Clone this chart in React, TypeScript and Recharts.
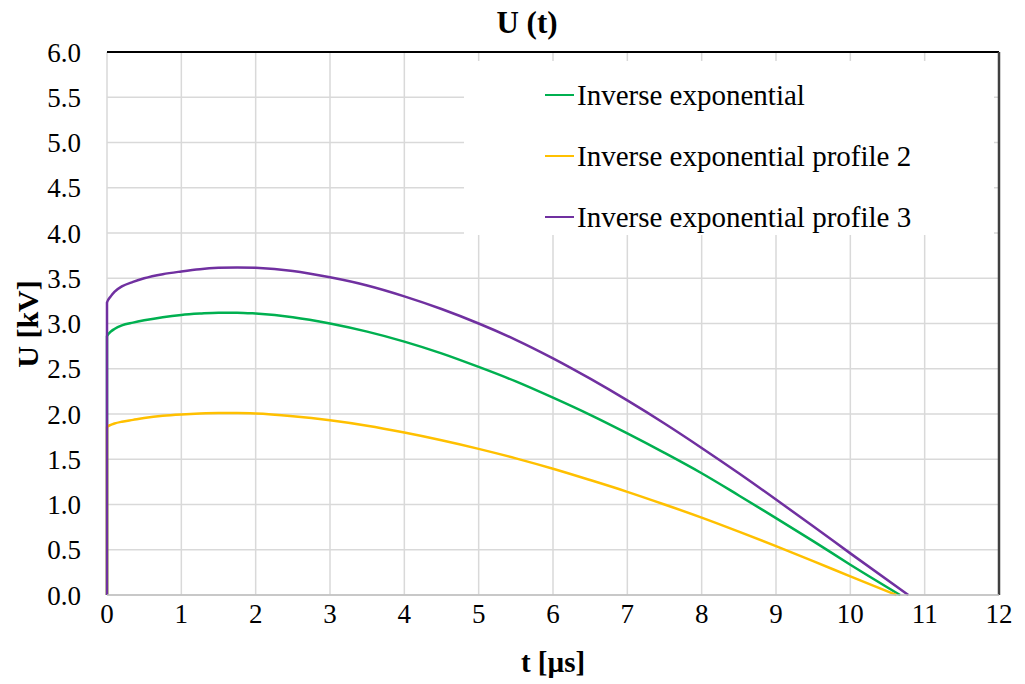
import React from 'react';
import {
  LineChart,
  Line,
  XAxis,
  YAxis,
  CartesianGrid,
  ReferenceLine,
  Legend,
  Customized,
} from 'recharts';

// Time grid (µs) shared by all three profiles; each profile then ends at its own zero crossing.
const T_COMMON = [
  0, 0, 0.05, 0.1, 0.2, 0.35, 0.5, 0.75, 1, 1.25, 1.5, 1.75, 2, 2.5, 3, 3.5, 4, 4.5, 5, 5.5, 6,
  6.5, 7, 7.5, 8, 8.5, 9, 9.5, 10,
];

// Voltage (kV) on T_COMMON for each profile
const U_PROFILE_1 = [
  0, 2.86, 2.91, 2.94, 2.98, 3.01, 3.035, 3.07, 3.095, 3.11, 3.12, 3.12, 3.11, 3.07, 3.0, 2.91,
  2.8, 2.67, 2.52, 2.36, 2.18, 1.99, 1.785, 1.57, 1.345, 1.1, 0.85, 0.595, 0.335,
];
const U_PROFILE_2 = [
  0, 1.855, 1.88, 1.895, 1.915, 1.935, 1.955, 1.98, 1.995, 2.005, 2.01, 2.01, 2.005, 1.975, 1.93,
  1.87, 1.795, 1.71, 1.615, 1.51, 1.395, 1.27, 1.14, 1.0, 0.855, 0.7, 0.54, 0.375, 0.205,
];
const U_PROFILE_3 = [
  0, 3.23, 3.3, 3.35, 3.41, 3.46, 3.5, 3.545, 3.575, 3.6, 3.615, 3.62, 3.615, 3.58, 3.51, 3.42,
  3.3, 3.16, 3.0, 2.82, 2.615, 2.39, 2.15, 1.895, 1.625, 1.345, 1.055, 0.76, 0.46,
];

// Time (µs) at which each profile returns to zero
const T_END = [10.67, 10.62, 10.78];

const SERIES_NAMES = [
  'Inverse exponential',
  'Inverse exponential profile 2',
  'Inverse exponential profile 3',
];
const SERIES_COLORS = ['#00b050', '#ffc000', '#7030a0'];

const X_TICKS = [0, 1, 2, 3, 4, 5, 6, 7, 8, 9, 10, 11, 12];
const Y_TICKS = [0, 0.5, 1, 1.5, 2, 2.5, 3, 3.5, 4, 4.5, 5, 5.5, 6];

const FONT = "'Liberation Serif', 'Times New Roman', serif";

const buildSeries = (values: number[], tEnd: number) =>
  T_COMMON.map((t, i) => ({ t, u: values[i] })).concat([{ t: tEnd, u: 0 }]);

const SERIES_DATA = [
  buildSeries(U_PROFILE_1, T_END[0]),
  buildSeries(U_PROFILE_2, T_END[1]),
  buildSeries(U_PROFILE_3, T_END[2]),
];

const renderLegend = (props: any) => {
  const payload = props.payload || [];
  return (
    <div
      style={{
        width: 530,
        height: 174,
        background: '#fff',
        boxSizing: 'border-box',
        paddingTop: 3.5,
        fontFamily: FONT,
        fontSize: 29,
        color: '#000',
      }}
    >
      {payload.map((entry: any) => (
        <div
          key={entry.value}
          style={{ height: 61, display: 'flex', alignItems: 'center', paddingLeft: 81 }}
        >
          <span
            style={{
              display: 'inline-block',
              width: 29,
              height: 2.5,
              background: entry.color,
              marginRight: 3,
            }}
          />
          <span style={{ whiteSpace: 'nowrap' }}>{entry.value}</span>
        </div>
      ))}
    </div>
  );
};

const ChartTexts = () => (
  <g fontFamily={FONT} fill="#000" fontWeight="bold">
    <text x={527} y={33} textAnchor="middle" fontSize={31}>
      U (t)
    </text>
    <text x={553} y={672} textAnchor="middle" fontSize={29}>
      t [µs]
    </text>
    <text
      x={0}
      y={0}
      textAnchor="middle"
      fontSize={30}
      transform="translate(38 324) rotate(-90)"
    >
      U [kV]
    </text>
  </g>
);

export default function App() {
  return (
    <div style={{ position: 'absolute', left: 0, top: 0, background: '#fff' }}>
      <LineChart
        width={1025}
        height={684}
        margin={{ top: 52, right: 26, bottom: 0, left: 0 }}
      >
        <CartesianGrid stroke="#d9d9d9" strokeWidth={1.5} />
        <XAxis
          dataKey="t"
          type="number"
          domain={[0, 12]}
          ticks={X_TICKS}
          interval={0}
          height={89}
          tickLine={false}
          tickSize={0}
          tickMargin={9}
          axisLine={{ stroke: '#bfbfbf', strokeWidth: 1.5 }}
          tick={{ fill: '#000', fontSize: 27, fontFamily: FONT }}
        />
        <YAxis
          type="number"
          domain={[0, 6]}
          ticks={Y_TICKS}
          interval={0}
          width={107}
          tickLine={false}
          tickSize={0}
          tickMargin={26}
          axisLine={false}
          tick={{ fill: '#000', fontSize: 27, fontFamily: FONT }}
          tickFormatter={(v: number) => v.toFixed(1)}
        />
        <ReferenceLine y={6} stroke="#000" strokeWidth={2} />
        <ReferenceLine x={12} stroke="#404040" strokeWidth={2.5} />
        {SERIES_DATA.map((data, i) => (
          <Line
            key={SERIES_NAMES[i]}
            data={data}
            dataKey="u"
            name={SERIES_NAMES[i]}
            type="monotone"
            stroke={SERIES_COLORS[i]}
            strokeWidth={2.5}
            dot={false}
            activeDot={false}
            isAnimationActive={false}
          />
        ))}
        <Legend
          content={renderLegend}
          layout="horizontal"
          verticalAlign="middle"
          align="center"
          wrapperStyle={{ left: 464, top: 61, width: 530, height: 174 }}
        />
        <Customized component={ChartTexts} />
      </LineChart>
    </div>
  );
}
